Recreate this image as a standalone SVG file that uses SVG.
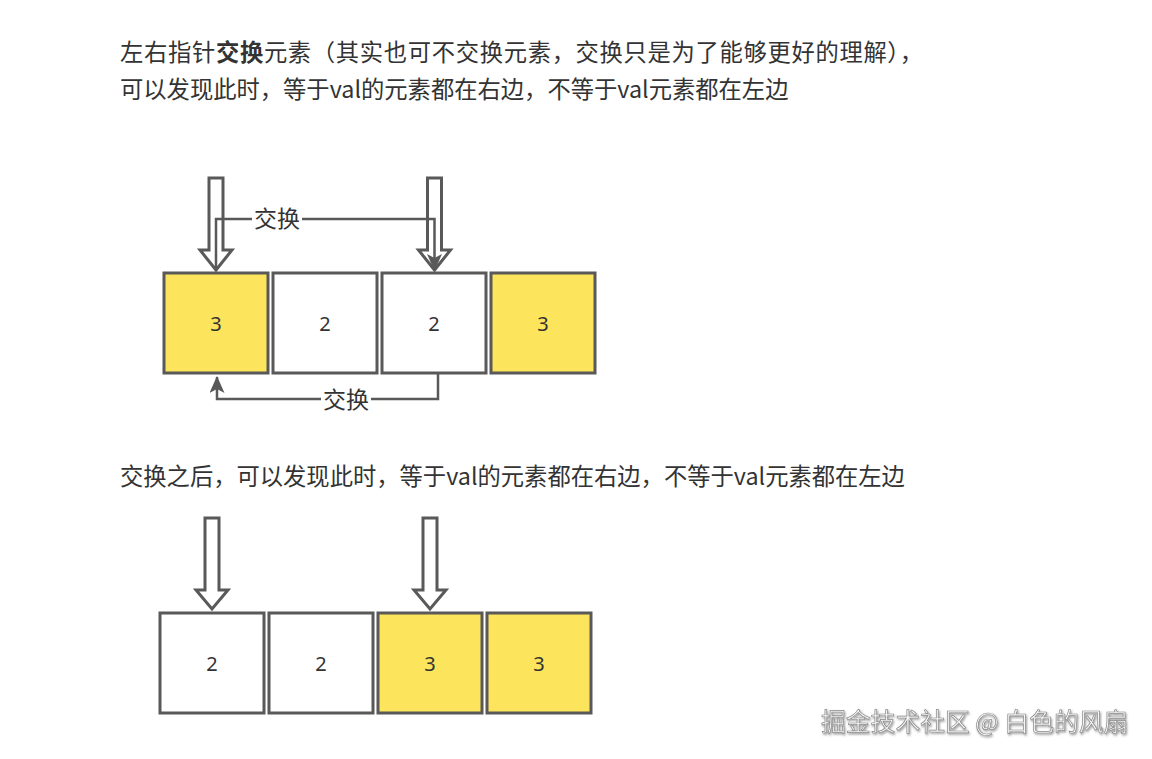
<svg xmlns="http://www.w3.org/2000/svg" width="1152" height="759" viewBox="0 0 1152 759">
  <defs>
    <style>
      .t { font-family: "Noto Sans CJK SC", "Noto Sans", sans-serif; font-size: 23.3px; fill: #333333; }
      .box { stroke: #595959; stroke-width: 3; }
      .yel { fill: #fce45c; }
      .wht { fill: #ffffff; }
      .num { font-family: "Noto Sans", "Noto Sans CJK SC", sans-serif; font-size: 20px; fill: #333333; text-anchor: middle; }
      .ptr { fill: #ffffff; stroke: #595959; stroke-width: 3; stroke-linejoin: miter; }
      .con { fill: none; stroke: #595959; stroke-width: 2.5; }
      .lbl { font-family: "Noto Sans CJK SC", sans-serif; font-size: 23px; fill: #333333; text-anchor: middle; }
      .wm { font-family: "Noto Sans CJK SC", sans-serif; font-size: 24.8px; fill: #f7f7f7; stroke: #8a8a8a; stroke-width: 0.7; }
    </style>
    <marker id="ah" markerUnits="userSpaceOnUse" markerWidth="18" markerHeight="16" refX="16" refY="7.5" orient="auto">
      <path d="M0,0 L17,7.5 L0,15 L4,7.5 z" fill="#595959"/>
    </marker>
    <filter id="sh" x="-5%" y="-30%" width="110%" height="160%">
      <feDropShadow dx="1" dy="1.5" stdDeviation="0.8" flood-color="#555555" flood-opacity="0.6"/>
    </filter>
  </defs>
  <rect width="1152" height="759" fill="#ffffff"/>

  <g id="text-lines">
    <text class="t" x="120" y="61" textLength="803" lengthAdjust="spacing">左右指针<tspan font-weight="bold">交换</tspan>元素（其实也可不交换元素，交换只是为了能够更好的理解），</text>
    <text class="t" x="120" y="98">可以发现此时，等于val的元素都在右边，不等于val元素都在左边</text>
    <text class="t" x="120" y="485">交换之后，可以发现此时，等于val的元素都在右边，不等于val元素都在左边</text>
  </g>

  <!-- top diagram -->
  <g id="top-cell-0"><rect class="box yel" x="164" y="273" width="104" height="100"/><text class="num" x="216" y="331">3</text></g>
  <g id="top-cell-1"><rect class="box wht" x="273" y="273" width="104" height="100"/><text class="num" x="325" y="331">2</text></g>
  <g id="top-cell-2"><rect class="box wht" x="382" y="273" width="104" height="100"/><text class="num" x="434" y="331">2</text></g>
  <g id="top-cell-3"><rect class="box yel" x="491" y="273" width="104" height="100"/><text class="num" x="543" y="331">3</text></g>

  <g id="top-ptr-left"><path class="ptr" d="M209,178 H223 V250 H232 L216,270 L200,250 H209 Z"/></g>
  <g id="top-ptr-right"><path class="ptr" d="M427.5,178 H441.5 V250 H450.5 L434.5,270 L418.5,250 H427.5 Z"/></g>

  <!-- bottom diagram -->
  <g id="bot-cell-0"><rect class="box wht" x="160" y="613" width="104" height="100"/><text class="num" x="212" y="671">2</text></g>
  <g id="bot-cell-1"><rect class="box wht" x="269" y="613" width="104" height="100"/><text class="num" x="321" y="671">2</text></g>
  <g id="bot-cell-2"><rect class="box yel" x="378" y="613" width="104" height="100"/><text class="num" x="430" y="671">3</text></g>
  <g id="bot-cell-3"><rect class="box yel" x="487" y="613" width="104" height="100"/><text class="num" x="539" y="671">3</text></g>

  <g id="bot-ptr-left"><path class="ptr" d="M205,518 H219 V590 H228 L212,609 L196,590 H205 Z"/></g>
  <g id="bot-ptr-right"><path class="ptr" d="M423,518 H437 V590 H446 L430,609 L414,590 H423 Z"/></g>

  <g id="connectors">
    <path class="con" d="M216,270 V219 H434.5 V270" marker-end="url(#ah)"/>
    <rect x="252" y="206" width="50" height="27" fill="#ffffff"/>
    <text class="lbl" x="277" y="227">交换</text>
    <path class="con" d="M438,374 V399 H217 V377" marker-end="url(#ah)"/>
    <rect x="321" y="387" width="50" height="27" fill="#ffffff"/>
    <text class="lbl" x="346" y="408">交换</text>
  </g>

  <g id="watermark">
    <text class="wm" x="821" y="731" filter="url(#sh)">掘金技术社区 @ 白色的风扇</text>
  </g>
</svg>
